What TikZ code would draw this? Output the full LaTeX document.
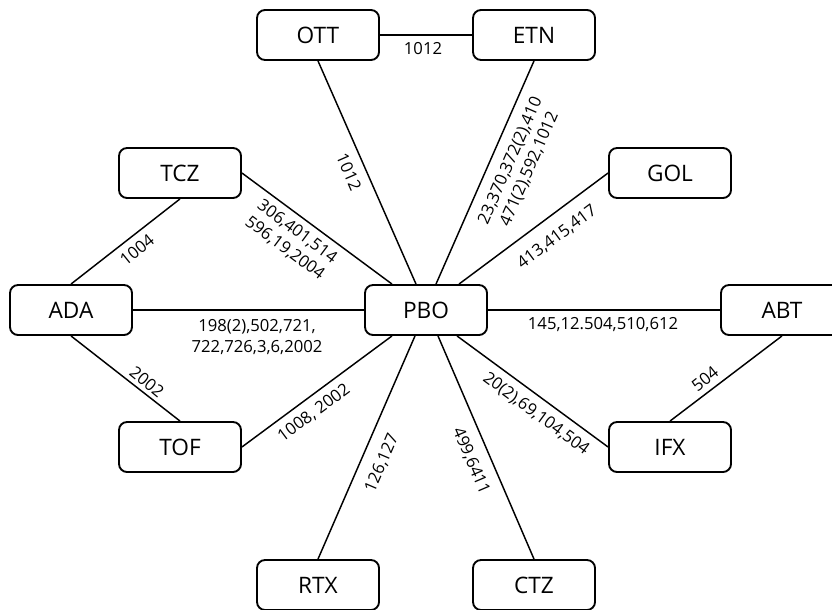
\documentclass[tikz,border=0pt]{standalone}
\usepackage{fontspec}
\setmainfont{Open Sans}
\usetikzlibrary{calc}
\begin{document}
\begin{tikzpicture}[x=0.75pt,y=-0.75pt,
  box/.style={draw, line width=1.4pt, rounded corners=6pt, minimum width=91.5pt,
    minimum height=37.5pt, inner sep=0pt, font=\fontsize{17}{20}\selectfont},
  link/.style={line width=1.1pt},
  lbl/.style={inner sep=0pt, align=center, font=\fontsize{12.5}{15.5}\selectfont}]
\useasboundingbox (0,0) rectangle (832,610);
\clip (0,0) rectangle (832,610);
% nodes
\node[box] (ott) at (318,35) {OTT};
\node[box] (etn) at (534,35) {ETN};
\node[box] (tcz) at (180,173) {TCZ};
\node[box] (gol) at (670,173) {GOL};
\node[box] (ada) at (71,310) {ADA};
\node[box] (pbo) at (426,310) {PBO};
\node[box] (abt) at (782,310) {ABT};
\node[box] (tof) at (180,447) {TOF};
\node[box] (ifx) at (670,447) {IFX};
\node[box] (rtx) at (318,585) {RTX};
\node[box] (ctz) at (534,585) {CTZ};
% connectors
\draw[link] (ott) -- (etn);
\draw[link] (ott.south) -- ($(pbo.north)+(-10,0)$);
\draw[link] (etn.south) -- ($(pbo.north)+(10,0)$);
\draw[link] (tcz.south) -- (ada.north);
\draw[link] (tcz.east) -- ($(pbo.north)+(-34,0)$);
\draw[link] (gol.west) -- ($(pbo.north)+(33,0)$);
\draw[link] (ada) -- (pbo);
\draw[link] (pbo) -- (abt);
\draw[link] (ada.south) -- (tof.north);
\draw[link] (tof.east) -- ($(pbo.south)+(-34,0)$);
\draw[link] ($(pbo.south)+(31,0)$) -- (ifx.west);
\draw[link] ($(pbo.south)+(-11,0)$) -- (rtx.north);
\draw[link] ($(pbo.south)+(12,0)$) -- (ctz.north);
\draw[link] (abt.south) -- (ifx.north);
% labels
\node[lbl] (l1) at (423,49) {1012};
\node[lbl, rotate=-66.5] (l2) at (349,172) {1012};
\node[lbl, rotate=66.5] (l3) at (520,165) {23,370,372(2),410\\471(2),592,1012};
\node[lbl, rotate=38.9] (l4) at (137,250) {1004};
\node[lbl, rotate=-36.6] (l5) at (291,240) {306,401,514\\596,19,2004};
\node[lbl] (l6) at (257,337) {198(2),502,721,\\722,726,3,6,2002};
\node[lbl, rotate=-39.4] (l7) at (147,382) {2002};
\node[lbl, rotate=36.6] (l8) at (314,413) {1008, 2002};
\node[lbl, rotate=36.7] (l9) at (557,237) {413,415,417};
\node[lbl] (l10) at (603,325) {145,12.504,510,612};
\node[lbl, rotate=38.9] (l11) at (705,379) {504};
\node[lbl, rotate=-36.4] (l12) at (536,414) {20(2),69,104,504};
\node[lbl, rotate=66.7] (l13) at (382,463) {126,127};
\node[lbl, rotate=-66.9] (l14) at (471,461) {499,6411};
\end{tikzpicture}
\end{document}
